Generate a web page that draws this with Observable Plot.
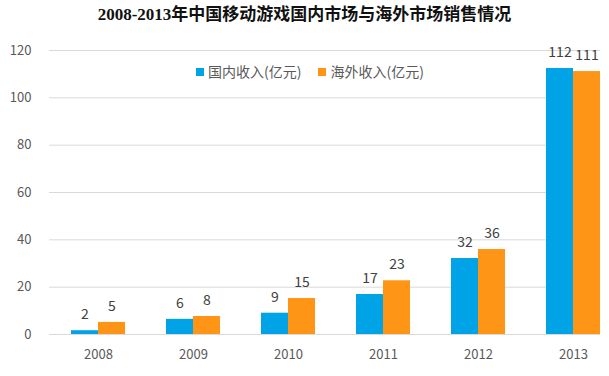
<!DOCTYPE html>
<html><head><meta charset="utf-8">
<script src="https://cdn.jsdelivr.net/npm/d3@7"></script>
<script src="https://cdn.jsdelivr.net/npm/@observablehq/plot@0.6"></script>
<style>
body{margin:0;background:#fff;}
#wrap{position:relative;width:609px;}
#title{height:32px;line-height:30px;text-align:center;font-family:"Liberation Serif","Noto Sans CJK SC",serif;font-weight:bold;font-size:17px;color:#111;}
#legend{position:absolute;top:61px;left:196px;font-family:"Noto Sans CJK SC",sans-serif;font-size:14px;color:#595959;display:flex;gap:17px;white-space:nowrap;}
#legend span.sw{display:inline-block;width:8px;height:8px;margin-right:4px;vertical-align:1px;}
</style></head>
<body><div id="wrap">
<div id="title">2008-2013年中国移动游戏国内市场与海外市场销售情况</div>
<div id="chart"></div>
<div id="legend"></div>
</div>
<script>
const years = ["2008","2009","2010","2011","2012","2013"];
const domestic = [1.6, 6.4, 9.0, 16.9, 32.1, 112.4];
const overseas = [5.1, 7.6, 15.2, 22.7, 35.9, 111.1];
const domesticLabels = [2, 6, 9, 17, 32, 112];
const overseasLabels = [5, 8, 15, 23, 36, 111];
const seriesNames = ["国内收入(亿元)", "海外收入(亿元)"];
const colors = ["#00a3e6", "#ff9516"];
const yTicks = [0, 20, 40, 60, 80, 100, 120];

const data = years.map((y, i) => ({year: y, dom: domestic[i], ovs: overseas[i], domL: domesticLabels[i], ovsL: overseasLabels[i]}));
const font = '"Noto Sans CJK SC", sans-serif';

const chart = Plot.plot({
  width: 609, height: 344,
  marginTop: 18, marginBottom: 42, marginLeft: 49, marginRight: 9,
  style: {fontFamily: font, background: "#fff"},
  x: {type: "band", domain: years, paddingInner: 0.4316, paddingOuter: 0.11, align: 1, label: null},
  y: {domain: [0, 120], label: null},
  marks: [
    Plot.gridY(yTicks, {stroke: "#d9d9d9", strokeOpacity: 1}),
    Plot.barY(data, {x: "year", y: "dom", fill: colors[0], insetRight: 27}),
    Plot.barY(data, {x: "year", y: "ovs", fill: colors[1], insetLeft: 27}),
    Plot.text(data, {x: "year", y: "dom", text: "domL", dx: -13.5, dy: -16, fill: "#404040", fontSize: 14}),
    Plot.text(data, {x: "year", y: "ovs", text: "ovsL", dx: 13.5, dy: -16, fill: "#404040", fontSize: 14}),
    Plot.axisY({ticks: yTicks, tickSize: 0, tickPadding: 18, fontSize: 13, fill: "#595959", label: null}),
    Plot.axisX({tickSize: 0, tickPadding: 15, fontSize: 13, fill: "#595959", label: null})
  ]
});
document.getElementById("chart").appendChild(chart);

const lg = document.getElementById("legend");
seriesNames.forEach((n, i) => {
  const d = document.createElement("div");
  d.innerHTML = `<span class="sw" style="background:${colors[i]}"></span>${n}`;
  lg.appendChild(d);
});
</script>
</body></html>
